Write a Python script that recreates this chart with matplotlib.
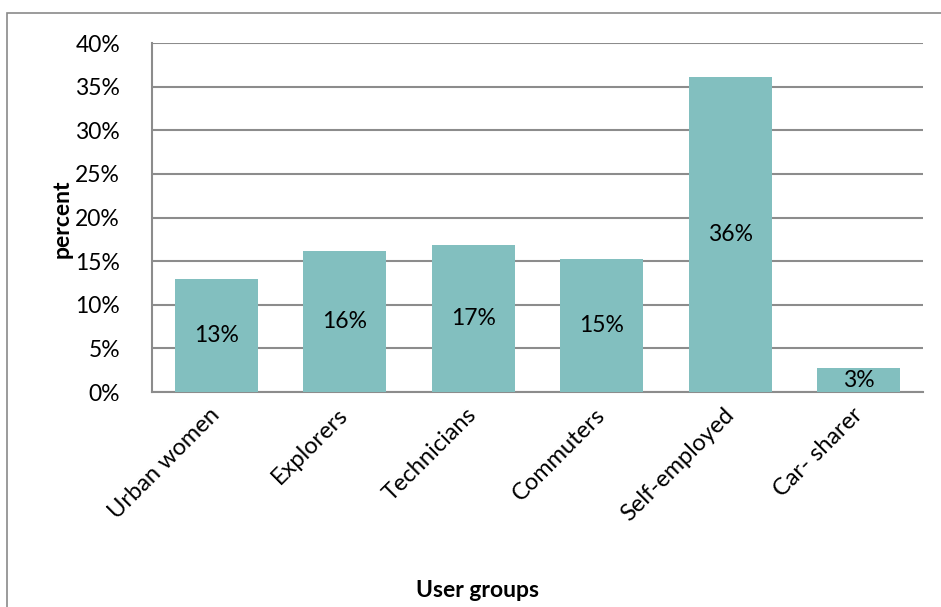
import numpy as np
import matplotlib.pyplot as plt
from matplotlib.patches import Rectangle

# data
groups = ["Urban women", "Explorers", "Technicians", "Commuters", "Self-employed", "Car- sharer"]
shares = [12.95, 16.2, 16.9, 15.2, 36.1, 2.75]
labels = ["13%", "16%", "17%", "15%", "36%", "3%"]
yticks = [0, 5, 10, 15, 20, 25, 30, 35, 40]

bar_color = "#82BFBF"
grid_color = "#8C8C8C"

plt.rcParams['font.family'] = ['Lato', 'DejaVu Sans']

fig = plt.figure(figsize=(9.41, 6.07), dpi=100)
ax = fig.add_axes([0.1615, 0.354, 0.8195, 0.575])

x = np.arange(len(groups))
ax.bar(x, shares, width=0.645, color=bar_color, zorder=3)

for xi, v, lab in zip(x, shares, labels):
    ax.text(xi, v / 2, lab, ha="center", va="center", fontsize=16.5, color="black", zorder=4)

ax.set_xlim(-0.5, len(groups) - 0.5)
ax.set_ylim(0, 40)
ax.set_yticks(yticks)
ax.set_yticklabels([str(t) + "%" for t in yticks], fontsize=16.5)
ax.yaxis.grid(True, color=grid_color, linewidth=1.5, zorder=0)
ax.tick_params(axis="y", length=0, pad=23)

ax.set_xticks(x)
ax.set_xticklabels(groups, rotation=45, ha="right", va="center", rotation_mode="anchor", fontsize=17)
ax.tick_params(axis="x", length=0, pad=14)

for s in ["top", "right"]:
    ax.spines[s].set_visible(False)
for s in ["left", "bottom"]:
    ax.spines[s].set_color(grid_color)
    ax.spines[s].set_linewidth(1.5)

fig.text(0.066, 0.64, "percent", rotation=90, ha="center", va="center", fontsize=16.5, fontweight="bold")
fig.text(0.507, 0.027, "User groups", ha="center", va="center", fontsize=16.5, fontweight="bold")

# chart area border
fig.patches.append(Rectangle((0.0074, -0.1), 2.0, 1.0786, transform=fig.transFigure,
                             fill=False, edgecolor="#8A8A8A", linewidth=1.2))

fig.savefig("out.png", dpi=100)
